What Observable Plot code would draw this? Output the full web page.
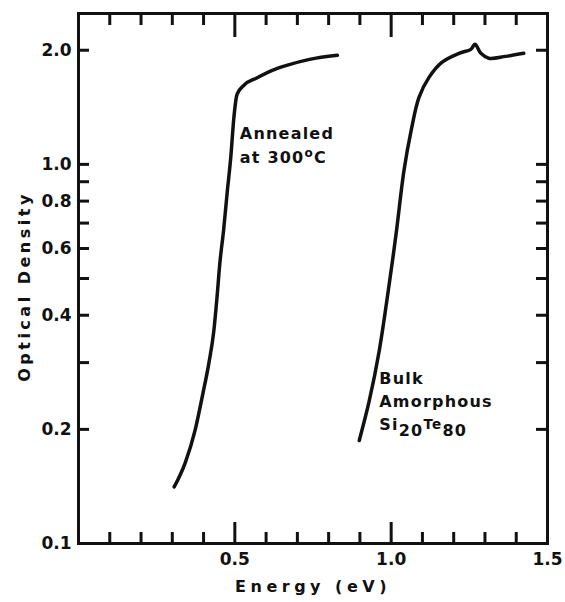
<!DOCTYPE html>
<html><head><meta charset="utf-8">
<script src="https://cdn.jsdelivr.net/npm/d3@7"></script>
<script src="https://cdn.jsdelivr.net/npm/@observablehq/plot@0.6"></script>
<style>
body{margin:0;background:#fff;}
</style></head><body><div id="chart"></div>
<script>
// Annealed at 300 °C
const annealedEnergy = [0.306,0.341,0.373,0.398,0.417,0.433,0.443,0.452,0.464,0.476,0.487,0.497,0.507,0.530,0.570,0.620,0.666,0.739,0.828];
const annealedOD     = [0.141,0.163,0.199,0.249,0.299,0.365,0.446,0.548,0.670,0.850,1.043,1.330,1.530,1.620,1.690,1.770,1.824,1.892,1.940];
// Bulk amorphous Si20Te80
const bulkEnergy = [0.898,0.930,0.962,0.994,1.016,1.041,1.064,1.089,1.121,1.162,1.217,1.255,1.268,1.287,1.312,1.366,1.424];
const bulkOD     = [0.187,0.238,0.323,0.485,0.658,0.964,1.229,1.502,1.696,1.858,1.963,2.011,2.073,1.963,1.905,1.927,1.963];

const xTickLabels = [0.5, 1.0, 1.5];
const xMajorTicks = [0.5, 1.0, 1.5];
const xMinorTicks = [0.1,0.2,0.3,0.4,0.6,0.7,0.8,0.9,1.1,1.2,1.3,1.4];
const yTicks = [0.1,0.2,0.3,0.4,0.5,0.6,0.7,0.8,0.9,1.0,2.0];
const yTickLabels = [0.1,0.2,0.4,0.6,0.8,1.0,2.0];

const noteText   = ["Annealed", "at 300oC", "Bulk", "Amorphous", "Si20Te80"];
const noteEnergy = [0.516, 0.516, 0.962, 0.962, 0.962];
const noteOD     = [1.20, 1.043, 0.2724, 0.2369, 0.206];

const W = 565, H = 602, ML = 78, MR = 18, MT = 13, MB = 59;
const PW = W - ML - MR, PH = H - MT - MB;

const annealed = annealedEnergy.map((e, i) => ({e, od: annealedOD[i]}));
const bulk = bulkEnergy.map((e, i) => ({e, od: bulkOD[i]}));
const notes = noteText.map((t, i) => ({t, e: noteEnergy[i], od: noteOD[i]}));

const ink = "#111";
const chart = Plot.plot({
  width: W, height: H,
  marginLeft: ML, marginRight: MR, marginTop: MT, marginBottom: MB,
  style: {fontFamily: "'DejaVu Sans', sans-serif", fontSize: "17px", fontWeight: "bold", color: ink, background: "#fff"},
  x: {domain: [0, 1.5]},
  y: {type: "log", domain: [0.1, 2.5]},
  marks: [
    Plot.tickY(yTicks, {y: d => d, stroke: ink, strokeWidth: 3, insetRight: PW - 11}),
    Plot.tickY(yTicks, {y: d => d, stroke: ink, strokeWidth: 3, insetLeft: PW - 11}),
    Plot.tickX(xMinorTicks, {x: d => d, stroke: ink, strokeWidth: 3, insetTop: PH - 11}),
    Plot.tickX(xMajorTicks, {x: d => d, stroke: ink, strokeWidth: 3, insetTop: PH - 21}),
    Plot.tickX(xMinorTicks, {x: d => d, stroke: ink, strokeWidth: 3, insetBottom: PH - 12}),
    Plot.tickX(xMajorTicks, {x: d => d, stroke: ink, strokeWidth: 3, insetBottom: PH - 24}),
    Plot.frame({stroke: ink, strokeWidth: 3}),
    Plot.axisY({ticks: yTickLabels, tickSize: 0, tickPadding: 7, tickFormat: d3.format(".1f"),
      label: "Optical Density", labelAnchor: "center", labelArrow: "none", labelOffset: 60, fontSize: 17}),
    Plot.axisX({ticks: xTickLabels, tickSize: 0, tickPadding: 9, tickFormat: d3.format(".1f"),
      label: "Energy (eV)", labelAnchor: "center", labelArrow: "none", labelOffset: 48, fontSize: 17}),
    Plot.line(annealed, {x: "e", y: "od", stroke: ink, strokeWidth: 3.5, curve: "monotone-x"}),
    Plot.line(bulk, {x: "e", y: "od", stroke: ink, strokeWidth: 3.5, curve: "catmull-rom"}),
    Plot.text(notes, {x: "e", y: "od", text: "t", textAnchor: "start", lineAnchor: "middle", fill: ink, fontSize: 16})
  ]
});
document.getElementById("chart").append(chart);

const svg = d3.select(chart);
// letter spacing like the original lettering
svg.selectAll("text").filter(function(){ return this.textContent === "Energy (eV)"; }).style("font-size", "16px").style("letter-spacing", "4.5px");
svg.selectAll("text").filter(function(){ return this.textContent === "Optical Density"; }).style("font-size", "16px").style("letter-spacing", "3.5px").attr("dx", "-8");
svg.selectAll("text").filter(function(){ return noteText.includes(this.textContent); }).style("letter-spacing", "1.2px");
// typographic sub/superscripts
svg.selectAll("text").filter(function(){ return this.textContent === "at 300oC"; }).each(function(){
  const t = d3.select(this); t.text(null);
  t.append("tspan").text("at 300");
  t.append("tspan").attr("dy", "-0.45em").attr("font-size", "0.75em").text("o");
  t.append("tspan").attr("dy", "0.34em").text("C");
});
svg.selectAll("text").filter(function(){ return this.textContent === "Si20Te80"; }).each(function(){
  const t = d3.select(this); t.text(null);
  t.append("tspan").text("Si");
  t.append("tspan").attr("dy", "0.4em").text("20");
  t.append("tspan").attr("dy", "-0.5em").attr("font-size", "0.85em").text("Te");
  t.append("tspan").attr("dy", "0.42em").attr("font-size", "16px").text("80");
});
</script></body></html>
